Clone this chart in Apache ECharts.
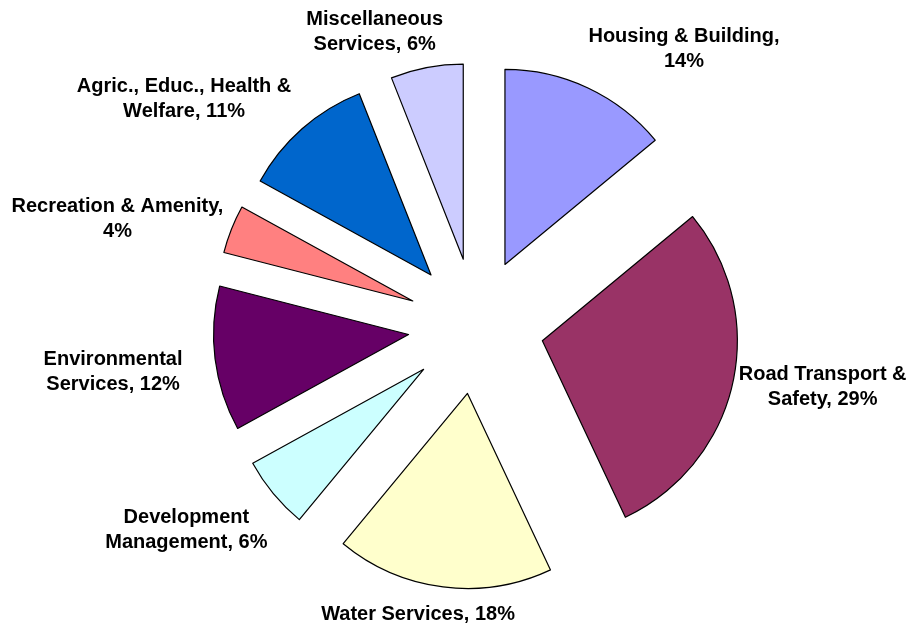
<!DOCTYPE html>
<html><head><meta charset="utf-8">
<script src="https://cdn.jsdelivr.net/npm/echarts@6/dist/echarts.min.js"></script>
<style>html,body{margin:0;padding:0;background:#fff}#c{width:918px;height:631px}</style>
</head><body><div id="c"></div>
<script>
const categories = ['Housing & Building', 'Road Transport & Safety', 'Water Services', 'Development Management', 'Environmental Services', 'Recreation & Amenity', 'Agric., Educ., Health & Welfare', 'Miscellaneous Services'];
const values = [14, 29, 18, 6, 12, 4, 11, 6];
const labelTexts = ['Housing & Building,\n14%', 'Road Transport &\nSafety, 29%', 'Water Services, 18%', 'Development\nManagement, 6%', 'Environmental\nServices, 12%', 'Recreation & Amenity,\n4%', 'Agric., Educ., Health &\nWelfare, 11%', 'Miscellaneous\nServices, 6%'];
const colors = ['#9999FF', '#993366', '#FFFFCC', '#CCFFFF', '#660066', '#FF8080', '#0066CC', '#CCCCFF'];

// label fine placement relative to the library's outside-label anchor (layout only)
const labelShift = [[91, -39], [85, 4], [-20, 28], [-82, 36], [-97, 13], [-109, -10], [-113, -30], [-47, -36]];

const chart = echarts.init(document.getElementById('c'), null, {renderer: 'canvas'});
chart.setOption({
  animation: false,
  series: [{
    type: 'pie',
    center: [476, 326],
    radius: [0, 195],
    startAngle: 90,
    clockwise: true,
    selectedMode: 'multiple',
    selectedOffset: 68,
    avoidLabelOverlap: false,
    itemStyle: {borderColor: '#000', borderWidth: 1.2},
    label: {
      show: true, position: 'outside', color: '#000',
      fontFamily: 'Liberation Sans, Arial, sans-serif', fontWeight: 'bold', fontSize: 20, lineHeight: 25,
      formatter: p => labelTexts[p.dataIndex]
    },
    labelLine: {show: false, length: 0, length2: 0},
    labelLayout: function (p) {
      const s = labelShift[p.dataIndex];
      return {dx: s[0], dy: s[1], align: 'center', verticalAlign: 'middle'};
    },
    emphasis: {disabled: true},
    data: categories.map((c, i) => ({name: c, value: values[i], selected: true, itemStyle: {color: colors[i]}}))
  }]
});
</script></body></html>
